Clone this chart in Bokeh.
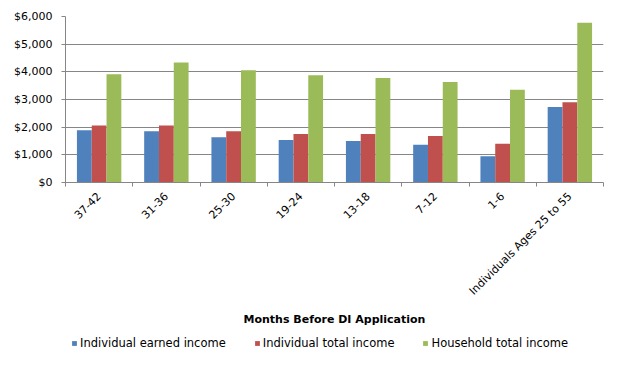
import math
from bokeh.plotting import figure
from bokeh.layouts import column
from bokeh.models import (ColumnDataSource, FixedTicker, NumeralTickFormatter, Legend, LegendItem, Range1d)
from bokeh.embed import file_html
from bokeh.resources import INLINE

categories = ["37-42", "31-36", "25-30", "19-24", "13-18", "7-12", "1-6", "Individuals Ages 25 to 55"]
earned = [1890, 1850, 1640, 1540, 1500, 1360, 945, 2730]
total = [2060, 2060, 1850, 1750, 1750, 1680, 1400, 2900]
household = [3915, 4335, 4055, 3880, 3775, 3635, 3355, 5770]
series_names = ["Individual earned income", "Individual total income", "Household total income"]
colors = ["#4F81BD", "#C0504D", "#9BBB59"]
y_ticks = [0, 1000, 2000, 3000, 4000, 5000, 6000]

FONT = "DejaVu Sans"
GRID = "#868686"
n = len(categories)
centers = [i + 0.5 for i in range(n)]
bw = 0.22

p = figure(width=608, height=331, output_backend="svg", toolbar_location=None,
           x_range=Range1d(0, n), y_range=Range1d(0, 6000),
           frame_width=538, frame_height=166,
           min_border_left=65, min_border_right=5, min_border_top=16, min_border_bottom=0)
p.outline_line_color = None
p.background_fill_color = "white"

for k, (vals, col) in enumerate(zip([earned, total, household], colors)):
    xs = [c + (k - 1) * bw for c in centers]
    src = ColumnDataSource(dict(x=xs, top=vals))
    p.vbar(x="x", top="top", width=bw, bottom=0, source=src, fill_color=col, line_color=None)

# x axis
p.xaxis.ticker = FixedTicker(ticks=centers, minor_ticks=list(range(n + 1)))
p.xaxis.major_label_overrides = {c: lab for c, lab in zip(centers, categories)}
p.xaxis.major_label_orientation = math.pi / 4
p.xaxis.major_tick_out = 0
p.xaxis.major_tick_in = 0
p.xaxis.minor_tick_out = 4
p.xaxis.minor_tick_in = 0
p.xaxis.minor_tick_line_color = GRID
p.xaxis.axis_line_color = GRID
p.xaxis.major_label_standoff = 8
p.xaxis.major_label_text_font = FONT
p.xaxis.major_label_text_font_size = "11px"
p.xaxis.major_label_text_color = "#000000"
p.xaxis.axis_label = "Months Before DI Application"
p.xaxis.axis_label_text_font = FONT
p.xaxis.axis_label_text_font_size = "11px"
p.xaxis.axis_label_text_font_style = "bold"
p.xaxis.axis_label_text_color = "#000000"
p.xaxis.axis_label_standoff = 8
p.xgrid.visible = False

# y axis
p.yaxis.ticker = FixedTicker(ticks=y_ticks)
p.yaxis.formatter = NumeralTickFormatter(format="$0,0")
p.yaxis.major_tick_out = 4
p.yaxis.major_tick_in = 0
p.yaxis.major_label_standoff = 9
p.yaxis.minor_tick_line_color = None
p.yaxis.axis_line_color = GRID
p.yaxis.major_tick_line_color = GRID
p.yaxis.major_label_text_font = FONT
p.yaxis.major_label_text_font_size = "11px"
p.yaxis.major_label_text_color = "#000000"
p.ygrid.ticker = FixedTicker(ticks=y_ticks)
p.ygrid.grid_line_color = GRID
p.ygrid.grid_line_alpha = 1.0

# legend strip (separate small figure, proxies are zero-height bars)
p2 = figure(width=608, height=26, output_backend="svg", toolbar_location=None,
            x_range=Range1d(0, 1), y_range=Range1d(0, 1), min_border=0,
            x_axis_type=None, y_axis_type=None)
p2.grid.visible = False
p2.outline_line_color = None
proxies = []
for col in colors:
    src = ColumnDataSource(dict(x=[0.5], top=[0]))
    proxies.append(p2.vbar(x="x", top="top", width=0.01, bottom=0, source=src,
                           fill_color=col, line_color=None))

legend = Legend(items=[LegendItem(label=nm, renderers=[r]) for nm, r in zip(series_names, proxies)],
                orientation="horizontal", location=(6, 5),
                label_text_font=FONT, label_text_font_size="11.5px", label_text_color="#000000",
                glyph_width=6, glyph_height=6, label_standoff=3, spacing=28,
                label_height=12, border_line_color=None, background_fill_alpha=0, margin=0, padding=2)
p2.add_layout(legend, "center")

layout = column(p, p2, spacing=0)
open("out.html", "w").write(file_html(layout, INLINE))
